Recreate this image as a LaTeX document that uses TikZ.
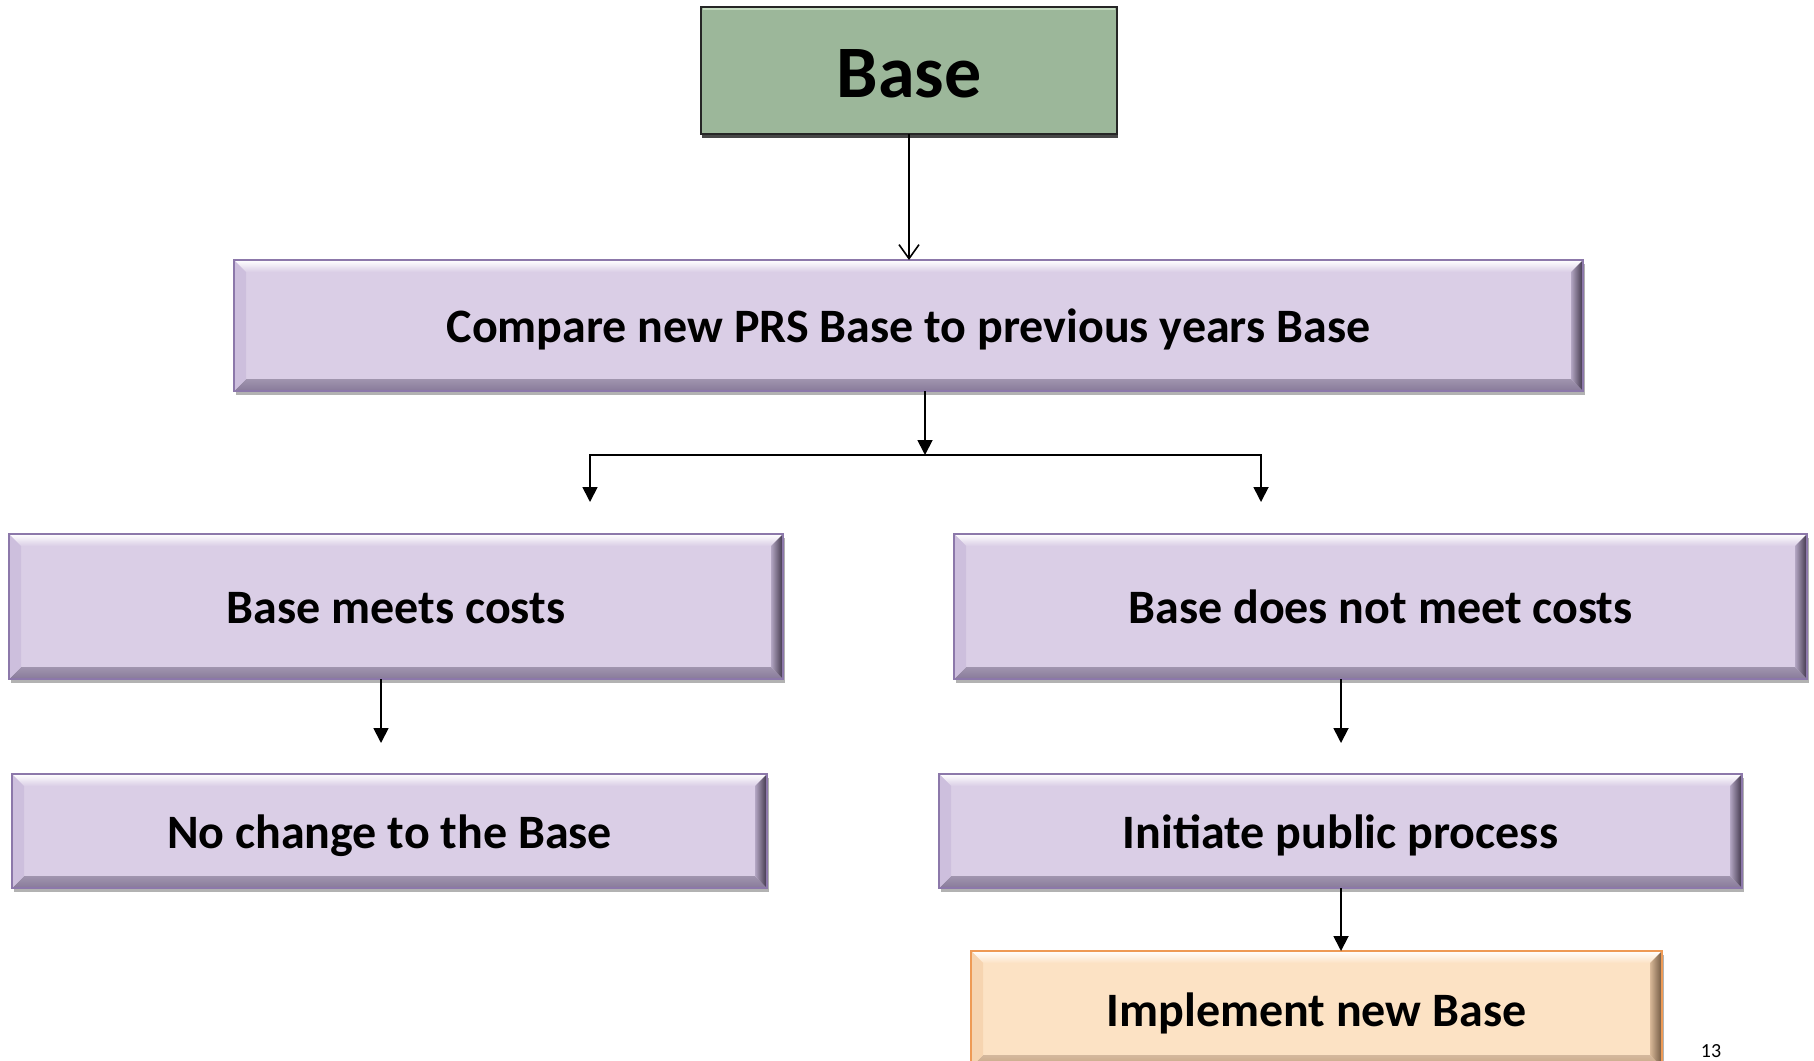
\documentclass[tikz,border=0pt]{standalone}
\usepackage{fontspec}
\setmainfont{Carlito}
\usetikzlibrary{arrows.meta,calc,shadows}
\definecolor{grn}{HTML}{9CB79A}
\definecolor{grnT}{HTML}{C4DCC0}
\definecolor{lil}{HTML}{DACEE6}
\definecolor{lilB}{HTML}{8C78AA}
\definecolor{lilBot}{HTML}{887A9A}
\definecolor{lilL}{HTML}{CDBFDD}
\definecolor{lilR1}{HTML}{B3A6C3}
\definecolor{lilR2}{HTML}{3E3448}
\definecolor{org}{HTML}{FCE2C4}
\definecolor{orgB}{HTML}{EE9A55}
\definecolor{orgBot}{HTML}{C9A684}
\definecolor{orgL}{HTML}{F6D4B0}
\definecolor{orgR1}{HTML}{D8B898}
\definecolor{orgR2}{HTML}{6E5640}
\newcommand\bevelpic[6]{%
  \path (path picture bounding box.north west) coordinate (bNW)
        (path picture bounding box.north east) coordinate (bNE)
        (path picture bounding box.south west) coordinate (bSW)
        (path picture bounding box.south east) coordinate (bSE);
  \shade[top color=white, bottom color=#1] (bNW) -- (bNE) -- ($(bNE)+(-6pt,-6pt)$) -- ($(bNW)+(6pt,-6pt)$) -- cycle;
  \shade[top color=#2!80!white, bottom color=#2] (bSW) -- (bSE) -- ($(bSE)+(-6pt,6pt)$) -- ($(bSW)+(6pt,6pt)$) -- cycle;
  \fill[#3] (bNW) -- ($(bNW)+(6pt,-6pt)$) -- ($(bSW)+(6pt,6pt)$) -- (bSW) -- cycle;
  \shade[left color=#4, right color=#5] (bNE) -- (bSE) -- ($(bSE)+(-6pt,6pt)$) -- ($(bNE)+(-6pt,-6pt)$) -- cycle;
}
\tikzset{
  boxbase/.style={rectangle, anchor=north west, inner sep=0pt, outer sep=0pt,
    font=\fontsize{24}{28}\selectfont\bfseries, text=black,
    text height=18pt, text depth=1pt,
    drop shadow={shadow xshift=1.2pt, shadow yshift=-1.8pt, opacity=0.3, fill=black}},
  pbox/.style={boxbase, fill=lil, draw=lilB, line width=0.9pt,
    path picture={\bevelpic{lil}{lilBot}{lilL}{lilR1}{lilR2}{}}},
  obox/.style={boxbase, fill=org, draw=orgB, line width=0.9pt,
    path picture={\bevelpic{org}{orgBot}{orgL}{orgR1}{orgR2}{}}},
  gbox/.style={rectangle, anchor=north west, inner sep=0pt, outer sep=0pt,
    fill=grn, draw=black!85, line width=1pt,
    font=\fontsize{37}{42}\selectfont\bfseries,
    text height=27pt, text depth=0pt,
    drop shadow={shadow xshift=0.6pt, shadow yshift=-1.8pt, opacity=0.9, fill=black!80}},
  tri/.style={-{Triangle[width=7.5pt,length=7.5pt]}, line width=0.9pt, black},
  opn/.style={-{Straight Barb[width=10pt,length=7pt,line width=0.8pt]}, line width=0.8pt, black},
}
\begin{document}
\begin{tikzpicture}[x=0.5pt,y=-0.5pt]
\useasboundingbox (0,0) rectangle (1814,1060);
\fill[white] (0,0) rectangle (1814,1060);

\node[gbox, minimum width=208pt, minimum height=63.5pt] (base) at (701,7) {Base};
\draw[grnT, line width=1pt] ($(base.north west)+(1pt,-1pt)$) -- ($(base.north east)+(-1pt,-1pt)$);

\node[pbox, minimum width=674.5pt, minimum height=65.5pt] (cmp) at (234,260) {Compare new PRS Base to previous years Base};

\node[pbox, minimum width=387pt, minimum height=72.5pt] (meets) at (9,534) {Base meets costs};
\node[pbox, minimum width=426.5pt, minimum height=72.5pt] (notmeet) at (954,534) {Base does not meet costs};

\node[pbox, minimum width=377.5pt, minimum height=57pt] (nochange) at (12,774) {No change to the Base};
\node[pbox, minimum width=401.5pt, minimum height=57pt] (init) at (939,774) {Initiate public process};

\node[obox, minimum width=345.5pt, minimum height=58pt] (impl) at (971,951) {Implement new Base};

\node[anchor=base, inner sep=0pt, font=\fontsize{10}{12}\selectfont] (pg) at (1711,1057) {13};

% connectors
\draw[opn] (base.south) -- (base.south |- cmp.north);

\coordinate (split) at (925,455);
\coordinate (lt) at (590,502);
\coordinate (rt) at (1261,502);
\draw[tri] (cmp.south -| split) -- (split);
\draw[tri] (split) -| (lt);
\draw[tri] (split) -| (rt);

\coordinate (a1) at (381,743);
\coordinate (a2) at (1341,743);
\draw[tri] (meets.south -| a1) -- (a1);
\draw[tri] (notmeet.south -| a2) -- (a2);
\draw[tri] (init.south -| a2) -- (impl.north -| a2);
\end{tikzpicture}
\end{document}
